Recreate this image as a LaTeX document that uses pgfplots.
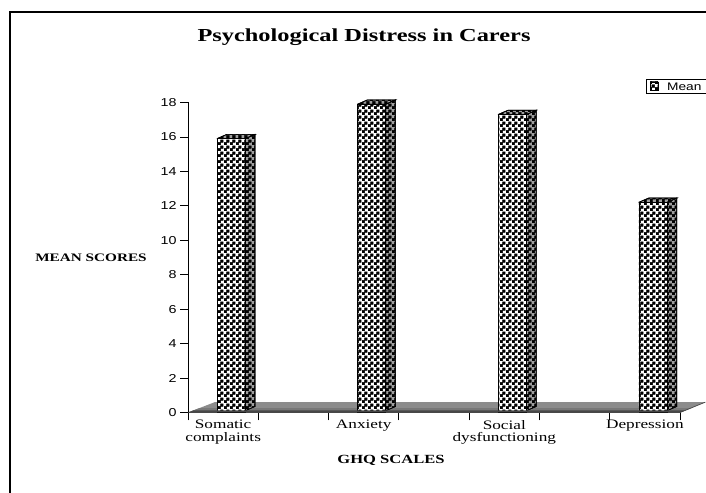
\documentclass[border=0pt]{standalone}
\usepackage{fontspec}
\setmainfont[FakeStretch=1.33]{Liberation Serif}
\newfontfamily\arial[FakeStretch=1.25]{Liberation Sans}
\usepackage{pgfplots}
\pgfplotsset{compat=1.18}
\usetikzlibrary{patterns}
\pgfdeclarepatternformonly{chk}{\pgfqpoint{0bp}{0bp}}{\pgfqpoint{5.6bp}{5.6bp}}{\pgfqpoint{5.6bp}{5.6bp}}{%
  \pgfpathrectangle{\pgfqpoint{0bp}{0bp}}{\pgfqpoint{2.8bp}{2.8bp}}%
  \pgfpathrectangle{\pgfqpoint{2.8bp}{2.8bp}}{\pgfqpoint{2.8bp}{2.8bp}}%
  \pgfsetlinewidth{0.35bp}\pgfusepath{fill,stroke}}
\definecolor{floorg}{gray}{0.55}
\definecolor{floorh}{gray}{0.47}
\definecolor{floord}{gray}{0.28}
\definecolor{sideg}{gray}{0.62}
\pgfplotsset{face/.style={fill=sideg,draw=black,line width=0.7bp,postaction={pattern=chk},forget plot,sharp plot}}
\begin{document}
\begin{tikzpicture}[x=1bp,y=1bp]
\path[use as bounding box] (0,0) rectangle (706,493);
\draw[black,line width=1.2bp] (706,481) -- (10,481) -- (10,0);
\begin{axis}[
  at={(188bp,80.5bp)},anchor=south west,
  scale only axis,width=492bp,height=310bp,
  xmin=-0.25,xmax=3.25,ymin=0,ymax=18,
  axis x line*=bottom,axis y line*=left,
  axis line style={-,black,line width=0.9bp},
  clip=false,
  ybar,bar width=28bp,bar shift=8bp,
  ytick={0,2,...,18},
  xtick={-0.25,0.25,0.75,1.25,1.75,2.25,2.75,3.25},
  xticklabels={},
  y tick label style={font=\arial\fontsize{11.5}{12}\selectfont},
  /pgf/number format/assume math mode=true,
  tick style={black,line width=0.8bp},
  major tick length=8bp,
  tick align=outside,
  extra x ticks={0,1,2,3},
  extra x tick labels={Somatic\\complaints,Anxiety,Social\\dysfunctioning,Depression},
  extra x tick style={major tick length=0bp,tick style={draw=none},
    x tick label style={align=center,font=\fontsize{13}{13}\selectfont,yshift=-4bp}},
]
% floor
\addplot[fill=floorg,draw=none,forget plot,sharp plot] coordinates {(-0.25,0)(-0.06,0.6)(3.43,0.6)(3.25,0)(-0.25,0)};
\addplot[fill=floorh,draw=none,forget plot,sharp plot] coordinates {(-0.17,0.25)(3.33,0.25)(3.25,0)(-0.25,0)(-0.17,0.25)};
\addplot[draw=floord,line width=0.7bp,forget plot,sharp plot] coordinates {(3.25,0)(3.43,0.6)};
% side and top faces
\addplot[face] coordinates {(0.156,0.1)(0.227,0.35)(0.227,16.15)(0.156,15.9)(0.156,0.1)};
\addplot[face] coordinates {(1.156,0.1)(1.227,0.35)(1.227,18.15)(1.156,17.9)(1.156,0.1)};
\addplot[face] coordinates {(2.156,0.1)(2.227,0.35)(2.227,17.55)(2.156,17.3)(2.156,0.1)};
\addplot[face] coordinates {(3.156,0.1)(3.227,0.35)(3.227,12.45)(3.156,12.2)(3.156,0.1)};
\addplot[face] coordinates {(-0.044,15.9)(0.027,16.15)(0.227,16.15)(0.156,15.9)(-0.044,15.9)};
\addplot[face] coordinates {(0.956,17.9)(1.027,18.15)(1.227,18.15)(1.156,17.9)(0.956,17.9)};
\addplot[face] coordinates {(1.956,17.3)(2.027,17.55)(2.227,17.55)(2.156,17.3)(1.956,17.3)};
\addplot[face] coordinates {(2.956,12.2)(3.027,12.45)(3.227,12.45)(3.156,12.2)(2.956,12.2)};
% front faces
\addplot[fill=white,draw=black,line width=0.7bp,postaction={pattern=chk}] coordinates {(0,15.9)(1,17.9)(2,17.3)(3,12.2)};
% front strip of floor
\addplot[fill=floord,draw=none,forget plot,sharp plot] coordinates {(-0.25,0)(-0.21,0.13)(3.29,0.13)(3.25,0)(-0.25,0)};
\end{axis}
\node[font=\bfseries\fontsize{18.4}{20}\selectfont] at (364,456) {Psychological Distress in Carers};
\node[font=\bfseries\fontsize{11.5}{12}\selectfont] at (91,235) {MEAN SCORES};
\node[font=\bfseries\fontsize{12.5}{13}\selectfont] at (391,33) {GHQ SCALES};
\draw[black,line width=0.9bp,fill=white] (706,414) -- (646,414) -- (646,399.5) -- (706,399.5);
\fill[white,postaction={pattern=chk}] (650,403) rectangle (658,411);
\draw[black,line width=0.6bp] (650,403) rectangle (658,411);
\node[font=\arial\fontsize{11}{12}\selectfont,anchor=west,inner sep=0pt] at (667,406.5) {Mean};
\end{tikzpicture}
\end{document}
